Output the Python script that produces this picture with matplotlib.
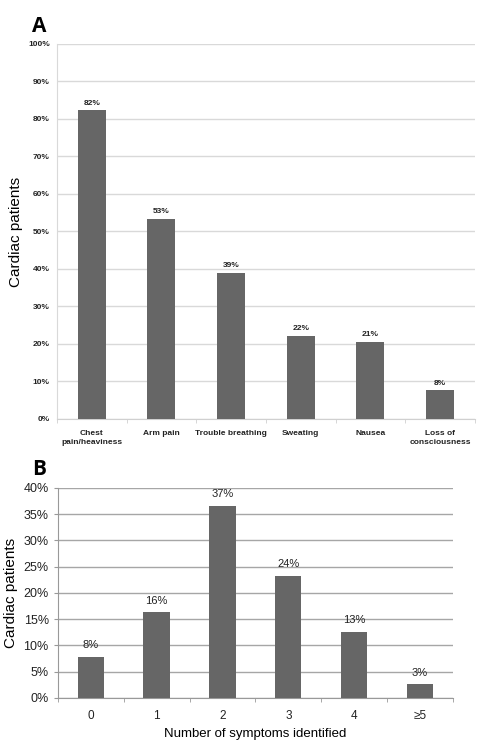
import numpy as np
import matplotlib
matplotlib.use("Agg")
import matplotlib.pyplot as plt
from matplotlib.ticker import FixedLocator, PercentFormatter

# panel A data
symptoms = ["Chest\npain/heaviness", "Arm pain", "Trouble breathing", "Sweating",
            "Nausea", "Loss of\nconsciousness"]
symptom_pct = [82.3, 53.3, 39.0, 22.2, 20.6, 7.6]
symptom_labels = ["82%", "53%", "39%", "22%", "21%", "8%"]

# panel B data
n_symptoms = ["0", "1", "2", "3", "4", "\u22655"]
count_pct = [7.9, 16.3, 36.6, 23.3, 12.6, 2.6]
count_labels = ["8%", "16%", "37%", "24%", "13%", "3%"]

bar_color = "#666666"

fig = plt.figure(figsize=(4.86, 7.49), dpi=100)
plt.rcParams['font.family'] = ['Liberation Sans', 'DejaVu Sans']

# ---- Panel A ----
axA = fig.add_axes([0.117, 0.4406, 0.860, 0.5007])
x = np.arange(len(symptoms))
axA.bar(x, symptom_pct, width=0.4, color=bar_color, zorder=3)
for xi, v, lab in zip(x, symptom_pct, symptom_labels):
    axA.text(xi, v + 1.0, lab, ha="center", va="bottom", fontsize=6,
             fontweight="bold", color="#222222")
axA.set_xlim(-0.5, len(symptoms) - 0.5)
axA.set_ylim(0, 100)
axA.set_yticks(np.arange(0, 101, 10))
axA.yaxis.set_major_formatter(PercentFormatter(decimals=0))
axA.set_xticks(x)
axA.set_xticklabels(symptoms, fontsize=6, fontweight="bold", color="#222222",
                    linespacing=1.3)
axA.xaxis.set_minor_locator(FixedLocator(np.arange(-0.5, len(symptoms), 1)))
axA.tick_params(axis="x", which="major", length=0, pad=8)
axA.tick_params(axis="x", which="minor", length=3, color="#d0d0d0")
axA.tick_params(axis="y", length=0, labelsize=6, pad=5, labelcolor="#222222")
for lab in axA.get_yticklabels():
    lab.set_fontweight("bold")
axA.grid(axis="y", color="#d9d9d9", linewidth=1.0, zorder=0)
for s in ["top", "right"]:
    axA.spines[s].set_visible(False)
axA.spines["left"].set_color("#d9d9d9")
axA.spines["bottom"].set_color("#d0d0d0")
axA.set_ylabel("Cardiac patients", fontsize=11, labelpad=4)
fig.text(0.066, 0.964, "A", fontsize=15, fontweight="bold", ha="left", va="center",
         family=["Open Sans", "DejaVu Sans"], fontstretch="condensed")

# ---- Panel B ----
axB = fig.add_axes([0.119, 0.0681, 0.813, 0.2804])
xb = np.arange(len(n_symptoms))
axB.bar(xb, count_pct, width=0.4, color=bar_color, zorder=3)
for xi, v, lab in zip(xb, count_pct, count_labels):
    axB.text(xi, v + 1.3, lab, ha="center", va="bottom", fontsize=8, color="#222222")
axB.set_xlim(-0.5, len(n_symptoms) - 0.5)
axB.set_ylim(0, 40)
axB.set_yticks(np.arange(0, 41, 5))
axB.yaxis.set_major_formatter(PercentFormatter(decimals=0))
axB.set_xticks(xb)
axB.set_xticklabels(n_symptoms, fontsize=8.5, color="#222222")
axB.xaxis.set_minor_locator(FixedLocator(np.arange(-0.5, len(n_symptoms), 1)))
axB.tick_params(axis="x", which="major", length=0, pad=9)
axB.tick_params(axis="x", which="minor", length=3, color="#999999")
axB.tick_params(axis="y", length=3, color="#999999", labelsize=9, labelcolor="#222222")
axB.grid(axis="y", color="#a6a6a6", linewidth=1.0, zorder=0)
for s in ["top", "right"]:
    axB.spines[s].set_visible(False)
axB.spines["left"].set_color("#999999")
axB.spines["bottom"].set_color("#999999")
axB.set_ylabel("Cardiac patients", fontsize=11, labelpad=4)
axB.set_xlabel("Number of symptoms identified", fontsize=9.5, labelpad=4)
fig.text(0.066, 0.373, "B", fontsize=15, fontweight="bold", ha="left", va="center",
         family=["Open Sans", "DejaVu Sans"], fontstretch="condensed")

fig.savefig("out.png", dpi=100, facecolor="white")
